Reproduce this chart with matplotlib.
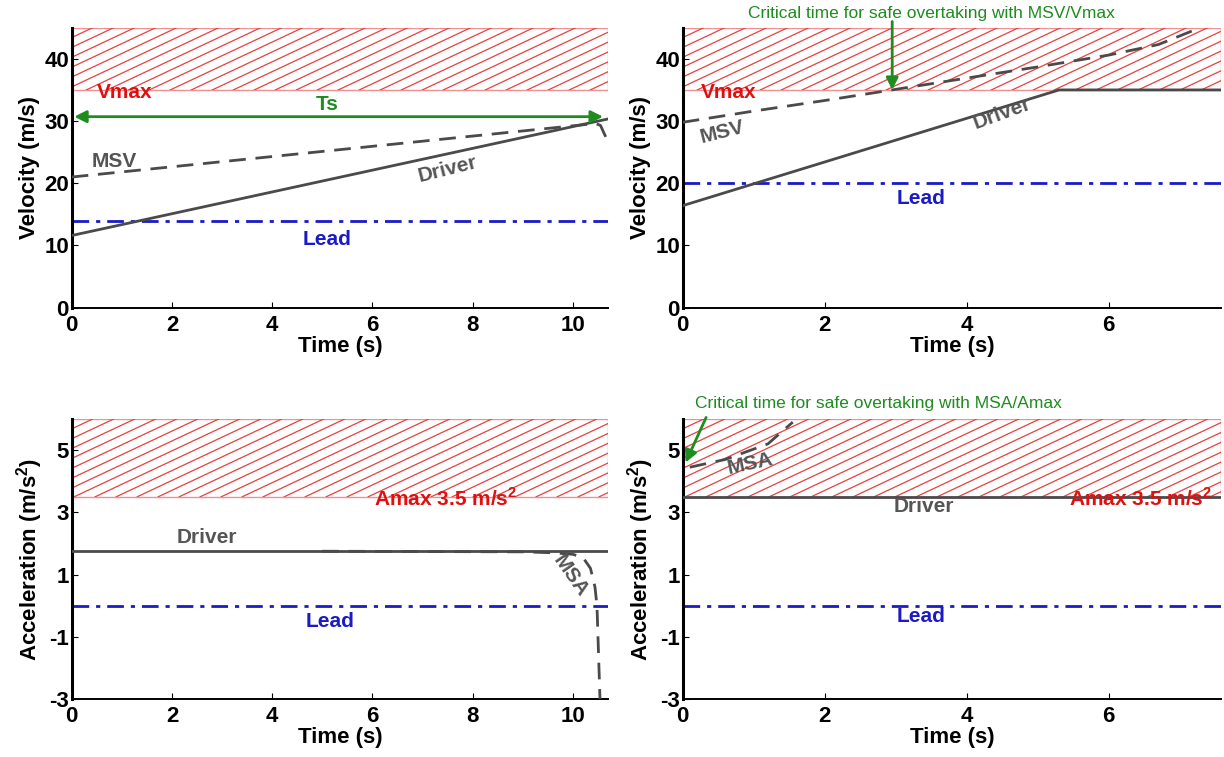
import numpy as np
import matplotlib.pyplot as plt

plt.rcParams['font.family'] = ['Liberation Sans', 'DejaVu Sans']
plt.rcParams['font.weight'] = 'bold'
plt.rcParams['axes.unicode_minus'] = False
plt.rcParams['mathtext.fontset'] = 'custom'
plt.rcParams['mathtext.bf'] = 'Liberation Sans:bold'
plt.rcParams['mathtext.rm'] = 'Liberation Sans:bold'

# ---- data ----
# top-left: velocity, scenario 1
t1_driver = [0, 10.68]
v1_driver = [11.6, 30.3]
t1_msv = [0, 10.45, 10.55, 10.68]
v1_msv = [21.0, 29.6, 29.3, 27.0]
v1_lead = 14.0
vmax = 35.0

# top-right: velocity, scenario 2
t2_driver = [0, 5.3, 7.6]
v2_driver = [16.4, 35.0, 35.0]
t2_msv = [0, 1, 2, 2.95, 4, 5, 6, 6.7, 7.2]
v2_msv = [29.8, 31.6, 33.3, 35.0, 36.9, 38.7, 40.6, 42.3, 44.6]
v2_lead = 20.0
t2_critical = 2.95

# bottom-left: acceleration, scenario 1
a1_driver = 1.77
t1_msa = [5.0, 9.0, 9.6, 10.0, 10.2, 10.35, 10.44, 10.48, 10.51, 10.54]
a1_msa = [1.75, 1.73, 1.70, 1.65, 1.55, 1.2, 0.6, 0.0, -1.5, -3.0]
a1_lead = 0.0
amax = 3.5

# bottom-right: acceleration, scenario 2
a2_driver = 3.5
t2_msa = [0.1, 0.6, 1.2, 1.55]
a2_msa = [4.45, 4.7, 5.2, 5.9]
a2_lead = 0.0

grey = '#4a4a4a'
red = '#e01010'
blue = '#1a1ac8'
green = '#1e8c1e'
dash = (0, (6, 3.5))
dashdot = (0, (6, 2.5, 1.5, 2.5))

fig = plt.figure(figsize=(12.24, 7.57), dpi=100)
W, H = 1224, 757

def make_ax(l, t, r, b):
    ax = fig.add_axes([l / W, 1 - b / H, (r - l) / W, (b - t) / H])
    for s in ['top', 'right']:
        ax.spines[s].set_visible(False)
    ax.spines['left'].set_linewidth(2.2)
    ax.spines['bottom'].set_linewidth(1.4)
    ax.tick_params(direction='in', length=4, width=0.8, labelsize=16, pad=2)
    ax.tick_params(axis='x', pad=5)
    return ax

def hatch_band(ax, y0, y1):
    x0, x1 = ax.get_xlim()
    ylo, yhi = ax.get_ylim()
    pos = ax.get_position()
    px_x = pos.width * W / (x1 - x0)
    px_y = pos.height * H / (yhi - ylo)
    rect = plt.Rectangle((x0, y0), x1 - x0, y1 - y0, facecolor='none',
                         edgecolor='#f09090', lw=1.0, zorder=1)
    ax.add_patch(rect)
    slope = 0.47
    step = 21.0
    hp = (y1 - y0) * px_y
    wp = (x1 - x0) * px_x
    for c in np.arange(-hp / slope, wp + step, step):
        xs = [x0 + c / px_x, x0 + (c + hp / slope) / px_x]
        ln, = ax.plot(xs, [y0, y1], color='#e84040', lw=0.9, zorder=1)
        ln.set_clip_path(rect)

def labels(ax, ylab):
    ax.set_xlabel('Time (s)', fontsize=16, fontweight='bold', labelpad=0)
    ax.set_ylabel(ylab, fontsize=16, fontweight='bold', labelpad=3)
    for lab in ax.get_xticklabels() + ax.get_yticklabels():
        lab.set_fontweight('bold')

# ---------- top-left ----------
ax = make_ax(71.7, 27.7, 608, 307.7)
ax.set_xlim(0, 10.7)
ax.set_ylim(0, 45)
ax.set_xticks([0, 2, 4, 6, 8, 10])
ax.set_yticks([0, 10, 20, 30, 40])
hatch_band(ax, vmax, 45)
ax.plot(t1_driver, v1_driver, color=grey, lw=2, zorder=3)
ax.plot(t1_msv, v1_msv, color=grey, lw=2, ls=dash, zorder=3)
ax.axhline(v1_lead, color=blue, lw=2, ls=dashdot)
ax.annotate('', xy=(10.6, 30.7), xytext=(0.05, 30.7),
            arrowprops=dict(arrowstyle='<|-|>', color=green, lw=2,
                            mutation_scale=18, shrinkA=0, shrinkB=0))
ax.text(1.05, 34.6, 'Vmax', color=red, fontsize=15, ha='center', va='center')
ax.text(5.1, 32.6, 'Ts', color=green, fontsize=15, ha='center', va='center')
ax.text(0.85, 23.5, 'MSV', color='#555555', fontsize=15, ha='center', va='center')
ax.text(7.5, 22.3, 'Driver', color='#555555', fontsize=15, ha='center',
        va='center', rotation=14)
ax.text(5.1, 10.9, 'Lead', color=blue, fontsize=15, ha='center', va='center')
labels(ax, 'Velocity (m/s)')

# ---------- top-right ----------
ax = make_ax(682.7, 27.7, 1221, 307.7)
ax.set_xlim(0, 7.58)
ax.set_ylim(0, 45)
ax.set_xticks([0, 2, 4, 6])
ax.set_yticks([0, 10, 20, 30, 40])
hatch_band(ax, vmax, 45)
ax.plot(t2_driver, v2_driver, color=grey, lw=2, zorder=3)
ax.plot(t2_msv, v2_msv, color=grey, lw=2, ls=dash, zorder=3)
ax.axhline(v2_lead, color=blue, lw=2, ls=dashdot)
ax.annotate('', xy=(t2_critical, vmax), xytext=(t2_critical, 46.0),
            arrowprops=dict(arrowstyle='-|>', color=green, lw=2,
                            mutation_scale=18, shrinkA=0, shrinkB=0),
            annotation_clip=False)
ax.text(3.5, 47.3, 'Critical time for safe overtaking with MSV/Vmax',
        color=green, fontsize=12.5, fontweight='normal', ha='center', va='center')
ax.text(0.65, 34.6, 'Vmax', color=red, fontsize=15, ha='center', va='center')
ax.text(0.55, 28.2, 'MSV', color='#555555', fontsize=15, ha='center',
        va='center', rotation=14)
ax.text(4.5, 31.2, 'Driver', color='#555555', fontsize=15, ha='center',
        va='center', rotation=20)
ax.text(3.35, 17.5, 'Lead', color=blue, fontsize=15, ha='center', va='center')
labels(ax, 'Velocity (m/s)')

# ---------- bottom-left ----------
ax = make_ax(71.7, 419, 608, 699)
ax.set_xlim(0, 10.7)
ax.set_ylim(-3, 6)
ax.set_xticks([0, 2, 4, 6, 8, 10])
ax.set_yticks([-3, -1, 1, 3, 5])
hatch_band(ax, amax, 6)
ax.axhline(a1_driver, color=grey, lw=2, zorder=3)
ax.plot(t1_msa, a1_msa, color=grey, lw=2, ls=dash, zorder=3)
ax.axhline(a1_lead, color=blue, lw=2, ls=dashdot)
ax.text(7.45, 3.45, r'Amax 3.5 m/s$^{\mathbf{2}}$', color=red, fontsize=15,
        ha='center', va='center')
ax.text(2.7, 2.2, 'Driver', color='#555555', fontsize=15, ha='center', va='center')
ax.text(9.95, 0.95, 'MSA', color='#555555', fontsize=15, ha='center',
        va='center', rotation=-55)
ax.text(5.15, -0.5, 'Lead', color=blue, fontsize=15, ha='center', va='center')
labels(ax, r'Acceleration (m/s$^{\mathbf{2}}$)')

# ---------- bottom-right ----------
ax = make_ax(682.7, 419, 1221, 699)
ax.set_xlim(0, 7.58)
ax.set_ylim(-3, 6)
ax.set_xticks([0, 2, 4, 6])
ax.set_yticks([-3, -1, 1, 3, 5])
hatch_band(ax, amax, 6)
ax.axhline(a2_driver, color=grey, lw=2, zorder=3)
ax.plot(t2_msa, a2_msa, color=grey, lw=2, ls=dash, zorder=3)
ax.axhline(a2_lead, color=blue, lw=2, ls=dashdot)
ax.annotate('', xy=(0.04, 4.6), xytext=(0.33, 6.05),
            arrowprops=dict(arrowstyle='-|>', color=green, lw=2,
                            mutation_scale=18, shrinkA=0, shrinkB=0),
            annotation_clip=False)
ax.text(0.18, 6.5, 'Critical time for safe overtaking with MSA/Amax',
        color=green, fontsize=12.5, fontweight='normal', ha='left', va='center')
ax.text(6.45, 3.45, r'Amax 3.5 m/s$^{\mathbf{2}}$', color=red, fontsize=15,
        ha='center', va='center')
ax.text(0.95, 4.55, 'MSA', color='#555555', fontsize=15, ha='center',
        va='center', rotation=12)
ax.text(3.4, 3.2, 'Driver', color='#555555', fontsize=15, ha='center', va='center')
ax.text(3.35, -0.35, 'Lead', color=blue, fontsize=15, ha='center', va='center')
labels(ax, r'Acceleration (m/s$^{\mathbf{2}}$)')

fig.savefig('out.png', dpi=100)
